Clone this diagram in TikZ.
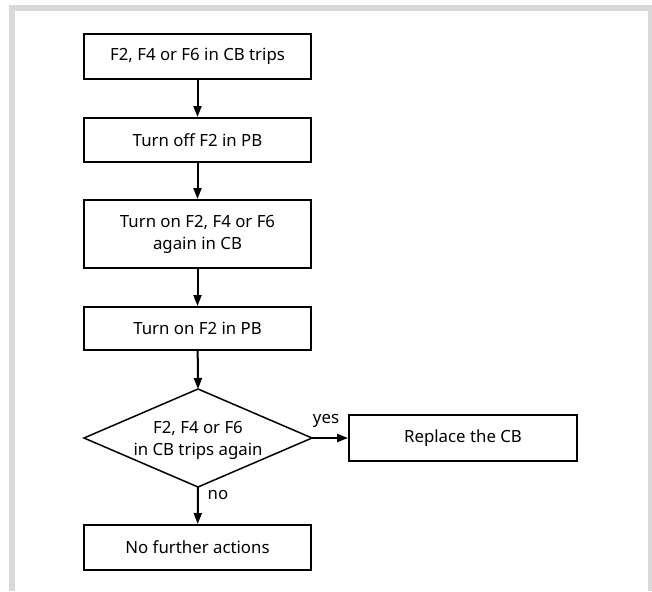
\documentclass[tikz,border=0pt]{standalone}
\usepackage{fontspec}
\setmainfont{Noto Sans}
\usetikzlibrary{arrows.meta}
\begin{document}
\begin{tikzpicture}[x=1pt,y=-1pt,
  font=\fontsize{16.8}{22}\selectfont,
  stepbox/.style={draw=black, line width=2pt, inner sep=0pt, align=center,
    minimum width=227pt},
  flow/.style={draw=black, line width=2pt, -{Triangle[length=11pt,width=8pt]}},
  lbl/.style={inner sep=0pt}]
\useasboundingbox (0,0) rectangle (652,591);
% page frame
\draw[line width=6pt, color={rgb,255:red,217;green,217;blue,217}]
  (12,591) -- (12,8) -- (651,8) -- (651,591);

\node[stepbox, minimum height=45pt] (b1) at (197.5,56.5) {F2, F4 or F6 in CB trips};
\node[stepbox, minimum height=44pt] (b2) at (197.5,140) {Turn off F2 in PB};
\node[stepbox, minimum height=68pt] (b3) at (197.5,234) {Turn on F2, F4 or F6\\again in CB};
\node[stepbox, minimum height=43pt] (b4) at (197.5,328.5) {Turn on F2 in PB};

% decision
\node[lbl, align=center] (dec) at (198,440) {F2, F4 or F6\\in CB trips again};
\coordinate (dn) at (198,389);
\coordinate (ds) at (198,487);
\coordinate (de) at (312,438);
\coordinate (dw) at (84,438);
\draw[line width=1.5pt, line join=miter] (dn) -- (de) -- (ds) -- (dw) -- cycle;

\node[stepbox, minimum width=228pt, minimum height=46pt] (rep) at (463,438) {Replace the CB};
\node[stepbox, minimum height=45pt] (b5) at (197.5,547.5) {No further actions};

\draw[flow] (b1) -- (b2);
\draw[flow] (b2) -- (b3);
\draw[flow] (b3) -- (b4);
\draw[flow] (b4) -- (dn);
\draw[flow] (de) -- (rep);
\draw[flow] (ds) -- (b5);

\node[lbl] (yes) at (326,421) {yes};
\node[lbl] (no) at (218,495) {no};
\end{tikzpicture}
\end{document}
